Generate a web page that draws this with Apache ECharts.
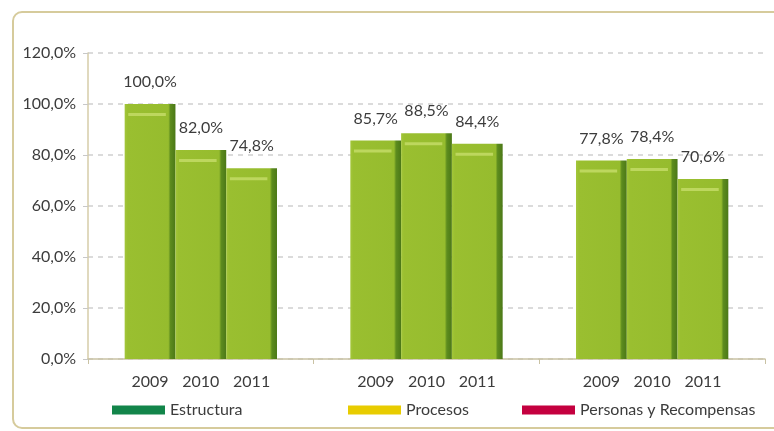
<!DOCTYPE html>
<html>
<head>
<meta charset="utf-8">
<script src="https://cdn.jsdelivr.net/npm/echarts@6/dist/echarts.min.js"></script>
<style>
html,body{margin:0;padding:0;background:#fff;}
#chart{width:774px;height:431px;}
</style>
</head>
<body>
<div id="chart"></div>
<script>
// ---- data ----
const groups = ['Estructura', 'Procesos', 'Personas y Recompensas'];
const years = ['2009', '2010', '2011'];
const values2009 = [100.0, 85.7, 77.8];
const values2010 = [82.0, 88.5, 78.4];
const values2011 = [74.8, 84.4, 70.6];
const yTicks = [0, 20, 40, 60, 80, 100, 120];
const legendNames = ['Estructura', 'Procesos', 'Personas y Recompensas'];
const legendColors = ['#12854a', '#e8cc00', '#c4003f'];
const legendLeft = [107, 343, 517];

const yearValues = [values2009, values2010, values2011];
const FONT = 'Lato, "Open Sans", sans-serif';
const TXT = '#3c3c3c';
const fmt = v => v.toFixed(1).replace('.', ',') + '%';

const barFill = {
  type: 'linear', x: 0, y: 0, x2: 1, y2: 0,
  colorStops: [
    {offset: 0, color: '#a3c63a'},
    {offset: 0.06, color: '#9abf30'},
    {offset: 0.86, color: '#96bc2e'},
    {offset: 0.9, color: '#5d8c1e'},
    {offset: 1, color: '#4b7817'}
  ]
};

const series = [];
years.forEach((yr, i) => {
  series.push({
    name: yr,
    type: 'bar',
    xAxisIndex: 0,
    data: yearValues[i],
    barGap: '0%',
    barCategoryGap: '32.5%',
    itemStyle: {color: barFill},
    label: {
      show: true, position: 'top', distance: 14,
      formatter: p => fmt(p.value),
      color: TXT, fontFamily: FONT, fontSize: 16
    },
    z: 2
  });
});
years.forEach((yr, i) => {
  series.push({
    name: 'hl' + yr,
    type: 'pictorialBar',
    xAxisIndex: 0,
    data: yearValues[i],
    barGap: '0%',
    barCategoryGap: '32.5%',
    symbol: 'rect',
    symbolPosition: 'end',
    symbolSize: ['74%', 3],
    symbolOffset: [-3, 9],
    itemStyle: {color: '#bdd75e'},
    silent: true,
    z: 3
  });
});
years.forEach((yr, i) => {
  series.push({
    name: 'lbl' + yr,
    type: 'bar',
    xAxisIndex: 1,
    data: yearValues[i],
    barGap: '0%',
    barCategoryGap: '32.5%',
    itemStyle: {color: 'rgba(0,0,0,0)'},
    silent: true,
    label: {
      show: true, position: 'bottom', distance: 15,
      formatter: () => yr,
      color: TXT, fontFamily: FONT, fontSize: 16
    },
    z: 1
  });
});
legendNames.forEach((n, i) => {
  series.push({
    name: n, type: 'line', data: [],
    itemStyle: {color: legendColors[i]},
    lineStyle: {color: legendColors[i]}
  });
});

const chart = echarts.init(document.getElementById('chart'), null, {renderer: 'canvas'});
chart.setOption({
  animation: false,
  backgroundColor: '#ffffff',
  graphic: [{
    type: 'rect',
    shape: {x: 13, y: 12, width: 775, height: 416, r: 9},
    style: {fill: 'none', stroke: '#d6cb9c', lineWidth: 2},
    silent: true, z: -10
  }],
  grid: {left: 88, right: 9, top: 53, bottom: 72, containLabel: false},
  legend: legendNames.map((n, i) => ({
    data: [n],
    left: legendLeft[i],
    top: 397,
    icon: 'rect',
    itemWidth: 53,
    itemHeight: 9,
    selectedMode: false,
    textStyle: {color: TXT, fontFamily: FONT, fontSize: 16}
  })),
  xAxis: [{
    type: 'category',
    data: groups,
    axisLine: {show: true, lineStyle: {color: '#c9c2a4', width: 1.5}},
    axisTick: {show: true, length: 5, lineStyle: {color: '#c9c2a4'}},
    axisLabel: {show: false},
    splitLine: {show: false}
  }, {
    type: 'category',
    data: groups,
    show: false,
    gridIndex: 0
  }],
  yAxis: {
    type: 'value',
    min: yTicks[0],
    max: yTicks[yTicks.length - 1],
    interval: 20,
    axisLine: {show: true, lineStyle: {color: '#d6cda8', width: 1.5}},
    axisTick: {show: true, length: 5, lineStyle: {color: '#c8c8c8'}},
    axisLabel: {
      formatter: v => fmt(v), color: TXT, fontFamily: FONT, fontSize: 16, margin: 12
    },
    splitLine: {show: true, lineStyle: {color: '#cfcfcf', width: 1.5, type: [5, 5]}}
  },
  series: series
});
</script>
</body>
</html>
